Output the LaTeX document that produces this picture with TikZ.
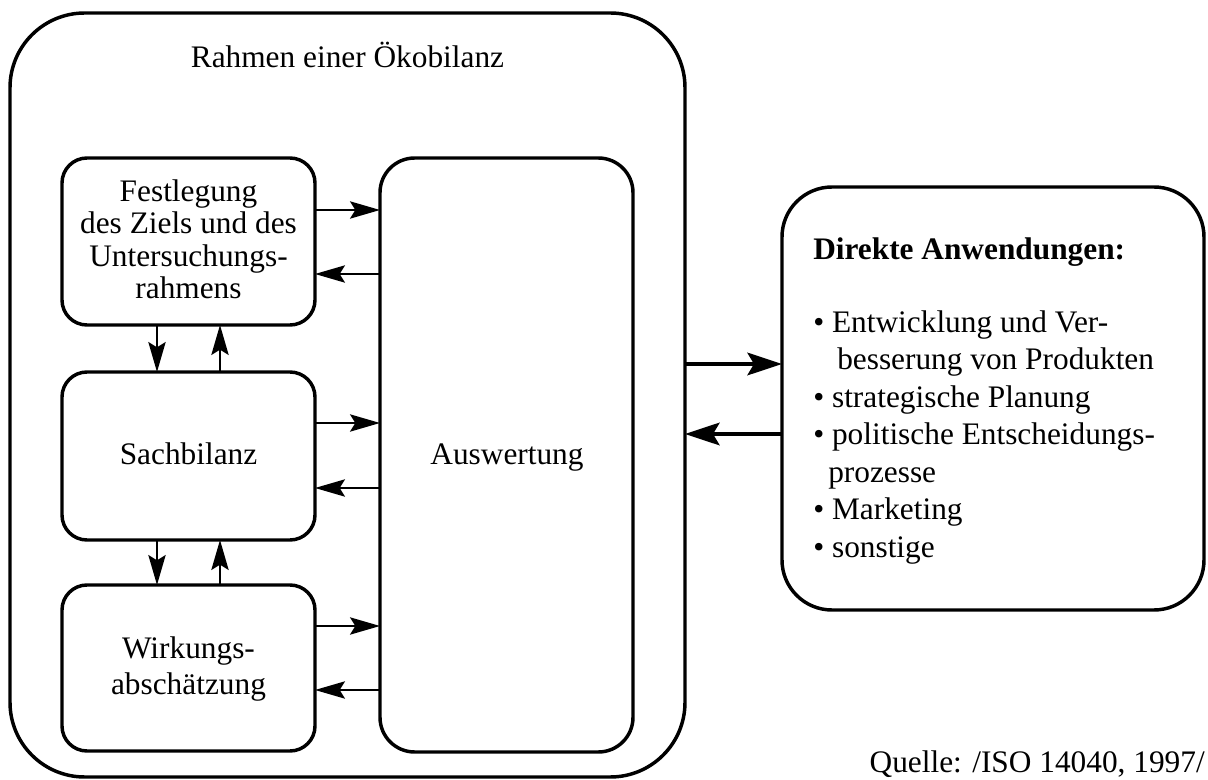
\documentclass[tikz,border=0pt]{standalone}
\usepackage{fontspec}
\setmainfont{Liberation Serif}
\usetikzlibrary{arrows.meta}
\begin{document}
\begin{tikzpicture}[x=0.75pt,y=-0.75pt,
  box/.style={draw,line width=2.6pt,rounded corners=18.75pt,inner sep=0pt,outer sep=0pt,minimum width=189.75pt},
  txt/.style={anchor=base,inner sep=0pt,font=\fontsize{23.5pt}{28pt}\selectfont},
  ltxt/.style={txt,anchor=base west},
  thinarrow/.style={line width=1.3pt,-{Stealth[length=22.5pt,width=13pt,inset=4pt]}},
  bigarrow/.style={line width=2.5pt,-{Stealth[length=26pt,width=17pt,inset=5pt]}}]
\useasboundingbox (0,0) rectangle (1208,780);
% boxes
\node[box,minimum width=506.25pt,minimum height=573pt,rounded corners=56pt] (frame) at (347.5,395) {};
\node[box,minimum height=125.25pt] (fest) at (188.5,241.5) {};
\node[box,minimum height=126pt] (sach) at (188.5,456) {};
\node[box,minimum height=124.5pt] (wirk) at (188.5,668) {};
\node[box,minimum height=445.5pt,rounded corners=26pt] (ausw) at (506.5,455) {};
\node[box,minimum width=316.5pt,minimum height=317.25pt,rounded corners=37.5pt] (anw) at (993,398.5) {};
% texts
\node[txt] (t0) at (347.5,68) {Rahmen einer Ökobilanz};
\node[txt] (f1) at (188.5,202) {Festlegung};
\node[txt] (f2) at (188.5,234) {des Ziels und des};
\node[txt] (f3) at (188.5,267) {Untersuchungs-};
\node[txt] (f4) at (188.5,299) {rahmens};
\node[txt] (s1) at (188.5,465) {Sachbilanz};
\node[txt] (w1) at (188.5,658) {Wirkungs-};
\node[txt] (w2) at (188.5,695) {abschätzung};
\node[txt] (au) at (507,465) {Auswertung};
\node[ltxt,font=\fontsize{23.5pt}{28pt}\selectfont\bfseries] (d0) at (813,260) {Direkte Anwendungen:};
\node[ltxt] (d1) at (813,333) {• Entwicklung und Ver-};
\node[ltxt] (d2) at (837,370) {besserung von Produkten};
\node[ltxt] (d3) at (813,408) {• strategische Planung};
\node[ltxt] (d4) at (813,445) {• politische Entscheidungs-};
\node[ltxt] (d5) at (828,483) {prozesse};
\node[ltxt] (d6) at (813,520) {• Marketing};
\node[ltxt] (d7) at (813,558) {• sonstige};
\node[txt,anchor=base east] (q) at (1205,772) {Quelle: /ISO 14040, 1997/};
% arrow levels
\coordinate (a1) at (0,210);
\coordinate (a2) at (0,274);
\coordinate (a3) at (0,423);
\coordinate (a4) at (0,488);
\coordinate (a5) at (0,626);
\coordinate (a6) at (0,690);
\coordinate (vd) at (157,0);
\coordinate (vu) at (220,0);
\coordinate (b1) at (0,364);
\coordinate (b2) at (0,434);
% horizontal arrows
\draw[thinarrow] (fest.east |- a1) -- (ausw.west |- a1);
\draw[thinarrow] (ausw.west |- a2) -- (fest.east |- a2);
\draw[thinarrow] (sach.east |- a3) -- (ausw.west |- a3);
\draw[thinarrow] (ausw.west |- a4) -- (sach.east |- a4);
\draw[thinarrow] (wirk.east |- a5) -- (ausw.west |- a5);
\draw[thinarrow] (ausw.west |- a6) -- (wirk.east |- a6);
% vertical arrows
\draw[thinarrow] (fest.south -| vd) -- (sach.north -| vd);
\draw[thinarrow] (sach.north -| vu) -- (fest.south -| vu);
\draw[thinarrow] (sach.south -| vd) -- (wirk.north -| vd);
\draw[thinarrow] (wirk.north -| vu) -- (sach.south -| vu);
% big arrows
\draw[bigarrow] (frame.east |- b1) -- (anw.west |- b1);
\draw[bigarrow] (anw.west |- b2) -- (frame.east |- b2);
\end{tikzpicture}
\end{document}
